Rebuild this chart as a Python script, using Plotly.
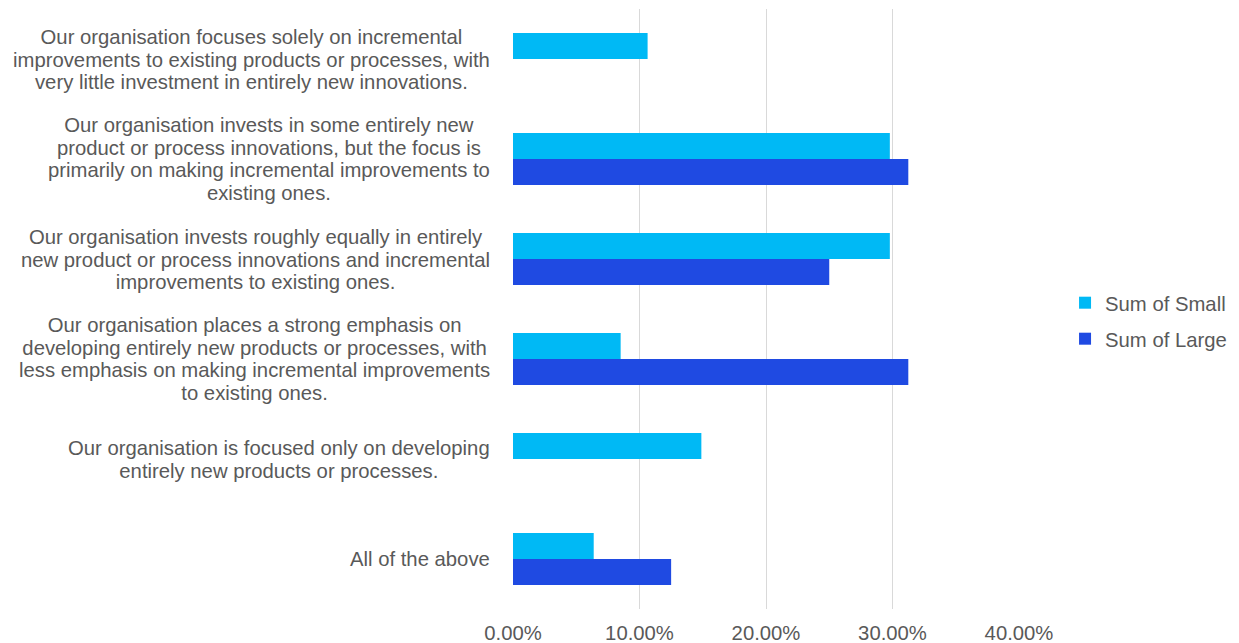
import plotly.graph_objects as go

categories = [
    ["Our organisation focuses solely on incremental",
     "improvements to existing products or processes, with",
     "very little investment in entirely new innovations."],
    ["Our organisation invests in some entirely new",
     "product or process innovations, but the focus is",
     "primarily on making incremental improvements to",
     "existing ones."],
    ["Our organisation invests roughly equally in entirely",
     "new product or process innovations and incremental",
     "improvements to existing ones."],
    ["Our organisation places a strong emphasis on",
     "developing entirely new products or processes, with",
     "less emphasis on making incremental improvements",
     "to existing ones."],
    ["Our organisation is focused only on developing",
     "entirely new products or processes."],
    ["All of the above"],
]
small = [0.1064, 0.2979, 0.2979, 0.0851, 0.1489, 0.0638]
large = [None, 0.3125, 0.25, 0.3125, None, 0.125]

tick_vals = [0, 0.1, 0.2, 0.3, 0.4]
tick_text = ["0.00%", "10.00%", "20.00%", "30.00%", "40.00%"]

FONT = "Liberation Sans, Arial, sans-serif"
GREY = "#595959"
TEXT_SIZE = 20.3
LINE_BASE = 17.4  # base size that sets the spacing between wrapped lines

positions = list(range(len(categories)))

fig = go.Figure()
fig.add_trace(go.Bar(y=positions, x=small, orientation="h",
                     name="Sum of Small", legend="legend",
                     marker=dict(color="#00B9F5", line=dict(width=0))))
fig.add_trace(go.Bar(y=positions, x=large, orientation="h",
                     name="Sum of Large", legend="legend2",
                     marker=dict(color="#1F4AE2", line=dict(width=0))))

# Category labels: centred multi-line blocks, right edge next to the axis
for i, lines in enumerate(categories):
    text = "<br>".join(
        f"<span style='font-size:{TEXT_SIZE}px'>{ln}</span>" for ln in lines)
    fig.add_annotation(x=0, xref="paper", y=i, yref="y", text=text,
                       xanchor="right", yanchor="middle", align="center",
                       xshift=-21, showarrow=False,
                       font=dict(family=FONT, size=LINE_BASE, color=GREY))

legend_style = dict(x=1.091, xanchor="left", yanchor="middle",
                    font=dict(size=TEXT_SIZE, color=GREY), itemwidth=30)

fig.update_layout(
    width=1239, height=643,
    margin=dict(l=513, r=220, t=9, b=34, autoexpand=False),
    barmode="group", bargap=0.48, bargroupgap=0,
    plot_bgcolor="white", paper_bgcolor="white",
    font=dict(family=FONT, size=TEXT_SIZE, color=GREY),
    xaxis=dict(range=[0, 0.4], tickvals=tick_vals, ticktext=tick_text,
               showgrid=True, gridcolor="#D9D9D9", gridwidth=1.3,
               zeroline=False, showline=False, ticks="",
               ticklabelstandoff=10, automargin=False,
               tickfont=dict(size=TEXT_SIZE, color=GREY)),
    yaxis=dict(range=[5.5, -0.5], tickvals=[], showgrid=False,
               zeroline=False, showline=False, automargin=False),
    legend=dict(y=0.51, **legend_style),
    legend2=dict(y=0.45, **legend_style),
    showlegend=True,
)

fig.write_html("out.html")
